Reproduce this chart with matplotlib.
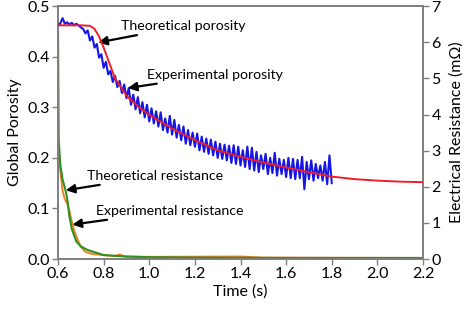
import matplotlib
matplotlib.use("Agg")
import matplotlib.pyplot as plt
import numpy as np

# Theoretical porosity (red)
t_theo_por = [0.60, 0.70, 0.74, 0.76, 0.78, 0.80, 0.85, 0.90, 0.95, 1.00, 1.10, 1.20, 1.30,
              1.40, 1.50, 1.60, 1.70, 1.80, 1.90, 2.00, 2.10, 2.20]
theo_por = [0.462, 0.462, 0.461, 0.455, 0.440, 0.418, 0.357, 0.323, 0.302, 0.285, 0.258,
            0.235, 0.215, 0.202, 0.191, 0.181, 0.172, 0.163, 0.158, 0.155, 0.153, 0.152]

# Experimental porosity (blue), sampled every 0.01 s from 0.60 to 1.80
t_exp_por = [round(0.60 + 0.01 * i, 2) for i in range(121)]
exp_por = [0.462, 0.466, 0.476, 0.465, 0.468, 0.463, 0.467, 0.462, 0.465, 0.462,
           0.458, 0.455, 0.446, 0.452, 0.432, 0.440, 0.418, 0.425, 0.398, 0.405,
           0.378, 0.390, 0.365, 0.372, 0.350, 0.362, 0.340, 0.352, 0.328, 0.345,
           0.318, 0.338, 0.305, 0.325, 0.296, 0.320, 0.288, 0.310, 0.280, 0.305,
           0.272, 0.298, 0.268, 0.292, 0.262, 0.290, 0.255, 0.278, 0.250, 0.283,
           0.246, 0.275, 0.240, 0.265, 0.235, 0.262, 0.228, 0.255, 0.225, 0.250,
           0.222, 0.248, 0.215, 0.242, 0.212, 0.238, 0.208, 0.236, 0.205, 0.232,
           0.200, 0.228, 0.198, 0.226, 0.195, 0.224, 0.190, 0.225, 0.188, 0.222,
           0.185, 0.215, 0.182, 0.222, 0.178, 0.220, 0.175, 0.212, 0.172, 0.205,
           0.178, 0.208, 0.168, 0.200, 0.170, 0.210, 0.165, 0.198, 0.168, 0.196,
           0.162, 0.200, 0.160, 0.198, 0.158, 0.196, 0.160, 0.202, 0.138, 0.192,
           0.158, 0.195, 0.155, 0.188, 0.160, 0.185, 0.155, 0.192, 0.148, 0.205,
           0.150]

# Theoretical resistance (green), mOhm
t_theo_res = [0.600, 0.603, 0.610, 0.620, 0.633, 0.640, 0.650, 0.660, 0.680, 0.700,
              0.730, 0.750, 0.800, 0.900, 1.000, 1.200, 1.600, 2.200]
theo_res = [6.30, 3.30, 2.60, 2.20, 1.90, 1.68, 1.19, 0.84, 0.49, 0.35,
            0.25, 0.21, 0.11, 0.07, 0.05, 0.04, 0.03, 0.03]

# Experimental resistance (orange), mOhm
t_exp_res = [0.600, 0.610, 0.620, 0.630, 0.640, 0.650, 0.660, 0.670, 0.680, 0.690,
             0.700, 0.720, 0.750, 0.800, 0.850, 0.870, 0.890, 1.000, 1.400, 1.500, 2.200]
exp_res = [2.94, 2.45, 1.89, 1.65, 1.54, 1.33, 1.05, 0.81, 0.63, 0.48,
           0.34, 0.20, 0.14, 0.11, 0.08, 0.13, 0.07, 0.06, 0.07, 0.04, 0.03]

x_ticks = [0.6, 0.8, 1.0, 1.2, 1.4, 1.6, 1.8, 2.0, 2.2]
y_ticks = [0.0, 0.1, 0.2, 0.3, 0.4, 0.5]
y2_ticks = [0, 1, 2, 3, 4, 5, 6, 7]

plt.rcParams['font.family'] = ['Lato', 'DejaVu Sans']

fig = plt.figure(figsize=(4.74, 3.21), dpi=100)
ax = fig.add_axes([0.1224, 0.193, 0.770, 0.788])
ax2 = ax.twinx()

spine_c = '#808080'
ax.plot(t_exp_por, exp_por, color='#1515e6', lw=1.5, zorder=3)
ax.plot(t_theo_por, theo_por, color='#f01e28', lw=1.4, zorder=4)
ax2.plot(t_exp_res, exp_res, color='#f08228', lw=1.4, zorder=3)
ax2.plot(t_theo_res, theo_res, color='#2f8f1f', lw=1.5, zorder=4)

ax.set_xlim(0.6, 2.2)
ax.set_ylim(0, 0.5)
ax2.set_ylim(0, 7)
ax.set_xticks(x_ticks)
ax.set_xticklabels([f"{v:.1f}" for v in x_ticks])
ax.set_yticks(y_ticks)
ax.set_yticklabels([f"{v:.1f}" for v in y_ticks])
ax2.set_yticks(y2_ticks)
ax2.set_yticklabels([str(v) for v in y2_ticks])

for a in (ax, ax2):
    for s in a.spines.values():
        s.set_color(spine_c)
        s.set_linewidth(1.3)
    a.tick_params(direction='out', length=4, width=1.0, color=spine_c,
                  labelsize=11.5, pad=2)

ax.set_xlabel("Time (s)", fontsize=11.5, labelpad=2)
ax.set_ylabel("Global Porosity", fontsize=11.5, labelpad=4)
ax2.set_ylabel("Electrical Resistance (m\u03a9)", fontsize=11.5, labelpad=6)

ann_kw = dict(fontsize=10.2, va='center', ha='left',
              arrowprops=dict(arrowstyle='-|>', color='black', lw=1.6,
                              mutation_scale=13, shrinkA=0, shrinkB=0))
ax.annotate("Theoretical porosity", xy=(0.776, 0.428), xytext=(0.875, 0.460), **ann_kw)
ax.annotate("Experimental porosity", xy=(0.906, 0.338), xytext=(0.99, 0.364), **ann_kw)
ax.annotate("Theoretical resistance", xy=(0.634, 0.136), xytext=(0.727, 0.164), **ann_kw)
ax.annotate("Experimental resistance", xy=(0.663, 0.068), xytext=(0.765, 0.095), **ann_kw)

ax.set_zorder(ax2.get_zorder() + 1)
ax.patch.set_visible(False)

fig.savefig("out.png", dpi=100)
